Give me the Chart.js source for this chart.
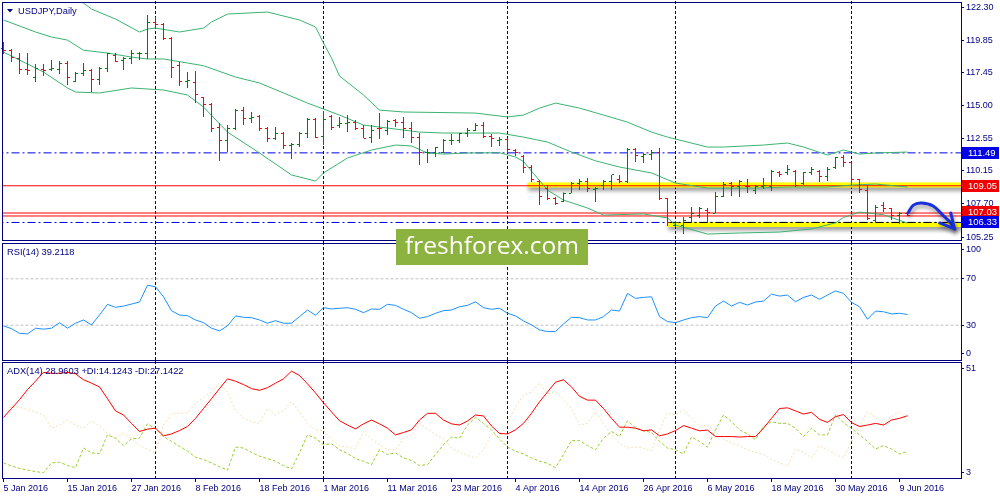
<!DOCTYPE html>
<html>
<head>
<meta charset="utf-8">
<title>USDJPY, Daily</title>
<script src="https://cdn.jsdelivr.net/npm/chart.js@4.4.1/dist/chart.umd.min.js"></script>
<style>
	html, body { margin: 0; padding: 0; background: #fff; }
	#wrap { position: relative; width: 1000px; height: 500px; overflow: hidden; background: #fff; }
	#wrap canvas { position: absolute; left: 0; top: 0; }
	#mark {
		position: absolute; left: 396px; top: 229px; width: 192px; height: 36px;
		background: #8cb23f; color: #fff; text-align: center;
		font: 24.5px 'Open Sans', sans-serif; line-height: 32px;
	}
</style>
</head>
<body>
<div id="wrap">
	<canvas id="mainChart" width="1000" height="500"></canvas>
	<canvas id="rsiChart" width="1000" height="500"></canvas>
	<canvas id="adxChart" width="1000" height="500"></canvas>
	<div id="mark">freshforex.com</div>
</div>
<script>
( function () {
	'use strict';

	// one bar per weekday, index 0 = 5 Jan 2016, last = 10 Jun 2016
	const opens = [
		119.20, 119.11, 118.52, 117.70, 117.11, 117.70, 117.70, 117.70, 118.15, 116.81,
		117.41, 117.63, 116.96, 117.78, 118.74, 118.37, 118.45, 118.82, 118.85, 121.19,
		121.04, 120.00, 117.93, 116.81, 116.74, 115.63, 115.11, 113.40, 112.37, 113.33,
		114.66, 114.07, 114.15, 113.33, 112.59, 112.89, 112.00, 112.14, 112.96, 114.00,
		112.74, 114.15, 113.55, 113.70, 113.77, 113.33, 112.66, 113.33, 113.18, 113.92,
		113.77, 113.33, 112.66, 111.48, 111.48, 111.52, 112.37, 112.37, 112.96, 113.18,
		113.55, 112.74, 112.37, 112.51, 111.70, 111.25, 110.37, 109.40, 108.88, 108.07,
		107.85, 108.51, 109.25, 109.33, 108.81, 109.10, 109.33, 109.48, 109.33, 111.77,
		111.25, 111.40, 111.48, 108.07, 106.14, 106.14, 106.73, 106.88, 107.25, 107.03,
		108.29, 109.25, 108.96, 109.03, 108.73, 108.96, 109.03, 110.07, 110.00, 110.14,
		109.25, 110.07, 110.14, 109.77, 110.37, 111.11, 110.74, 109.48, 108.73, 106.51,
		107.62, 107.33, 106.88, 106.96,
	];
	const highs = [
		119.71, 119.19, 118.89, 118.89, 118.07, 118.07, 118.37, 118.30, 118.30, 117.48,
		118.15, 117.70, 117.85, 118.89, 118.89, 118.59, 119.11, 118.96, 121.71, 121.56,
		121.11, 120.08, 118.22, 117.48, 117.56, 115.63, 115.18, 113.70, 113.55, 114.74,
		114.89, 114.52, 114.29, 113.40, 113.40, 113.03, 112.22, 113.03, 114.07, 114.07,
		114.59, 114.29, 114.15, 114.29, 113.92, 113.55, 113.55, 114.44, 113.92, 114.00,
		114.15, 113.77, 112.96, 111.77, 111.92, 112.51, 112.89, 112.96, 113.33, 113.70,
		113.77, 112.89, 112.66, 112.59, 111.77, 111.33, 110.59, 109.48, 109.10, 108.22,
		108.55, 109.33, 109.55, 109.62, 108.96, 109.48, 109.85, 109.85, 111.85, 111.85,
		111.48, 111.70, 111.85, 108.14, 106.44, 106.73, 107.47, 107.47, 107.40, 108.59,
		109.33, 109.33, 109.48, 109.55, 109.10, 109.62, 110.22, 110.14, 110.59, 110.22,
		110.07, 110.44, 110.22, 110.44, 111.18, 111.33, 110.81, 109.55, 109.10, 107.62,
		107.85, 107.40, 107.10, 107.03,
	];
	const lows = [
		118.82, 118.22, 117.33, 117.26, 116.74, 117.19, 117.56, 117.33, 116.52, 116.74,
		117.19, 116.00, 116.52, 117.48, 118.22, 117.63, 118.07, 118.37, 118.45, 120.74,
		119.85, 117.04, 116.44, 116.30, 115.18, 114.15, 113.03, 110.88, 111.55, 113.18,
		113.55, 113.70, 113.11, 112.29, 112.44, 111.77, 111.03, 111.92, 112.59, 112.59,
		112.07, 113.18, 113.33, 113.03, 113.18, 112.59, 112.22, 112.51, 112.81, 113.40,
		112.59, 112.22, 110.59, 110.74, 111.18, 111.48, 112.07, 112.22, 112.66, 113.11,
		112.59, 111.92, 112.00, 111.48, 111.25, 110.00, 109.33, 107.62, 107.99, 107.62,
		107.85, 108.51, 108.73, 108.59, 107.85, 108.73, 108.73, 109.25, 109.25, 110.81,
		110.74, 110.96, 107.99, 106.07, 105.99, 105.47, 106.36, 106.66, 106.36, 107.03,
		108.22, 108.29, 108.22, 108.51, 108.44, 108.81, 108.66, 109.70, 109.85, 108.96,
		109.10, 109.85, 109.33, 109.40, 110.29, 110.44, 109.10, 108.51, 106.51, 106.29,
		107.10, 106.51, 106.22, 106.81,
	];
	const closes = [
		119.10, 118.59, 117.70, 117.63, 117.78, 117.63, 117.72, 118.15, 117.04, 117.41,
		117.63, 116.96, 117.78, 118.82, 118.30, 118.52, 118.82, 118.85, 121.19, 121.04,
		120.00, 117.85, 116.81, 116.85, 115.78, 115.11, 113.33, 112.37, 113.33, 114.66,
		114.07, 114.10, 113.33, 112.59, 112.89, 112.00, 112.14, 112.96, 114.00, 112.66,
		114.00, 113.40, 113.70, 113.77, 113.33, 112.59, 113.18, 113.26, 113.85, 113.77,
		113.33, 112.66, 111.48, 111.52, 111.90, 112.44, 112.40, 112.96, 113.18, 113.55,
		112.74, 112.59, 112.51, 111.77, 111.48, 110.44, 109.55, 108.22, 108.14, 107.77,
		108.51, 109.25, 109.33, 108.88, 108.88, 109.33, 109.85, 109.33, 111.77, 111.33,
		111.40, 111.55, 108.07, 106.36, 106.36, 106.51, 107.03, 107.33, 107.10, 108.29,
		109.18, 108.96, 109.33, 108.96, 108.96, 109.10, 110.14, 109.85, 110.29, 109.10,
		110.07, 110.29, 109.77, 110.29, 111.11, 110.74, 109.55, 108.81, 106.66, 107.47,
		107.40, 106.88, 107.03, 106.88,
	];

	// Bollinger bands, read as [bar, price]
	const bbUpper = [
		[0, 124.6], [5, 123.6], [10, 122.6], [11, 122.15], [14, 121.41], [17, 120.45], [18, 120.67],
		[19, 120.74], [22, 120.45], [25, 120.74], [26, 121.19], [28, 121.78], [33, 121.93], [37, 121.34],
		[39, 120.82], [40, 119.63], [41, 118.52], [42, 117.19], [45, 115.78], [47, 114.66], [50, 114.52],
		[59, 114.44], [63, 114.15], [65, 114.29], [67, 114.81], [69, 115.18], [72, 114.81], [75, 114.29],
		[78, 113.77], [81, 113.03], [83, 112.66], [88, 111.92], [90, 111.92], [95, 112.07], [98, 112.22],
		[100, 111.92], [103, 111.33], [105, 111.70], [107, 111.40], [109, 111.48], [113, 111.55],
	];
	const bbMiddle = [
		[0, 121.34], [4, 120.45], [6, 120.08], [8, 119.85], [10, 119.1], [13, 118.89], [16, 118.59],
		[18, 118.45], [20, 118.45], [23, 118.15], [25, 117.95], [29, 117.11], [32, 116.67], [35, 115.93],
		[38, 115.18], [40, 114.74], [42, 114.29], [45, 113.55], [48, 113.33], [52, 113.03], [55, 112.96],
		[62, 112.96], [65, 112.66], [68, 112.29], [71, 111.55], [74, 110.90], [77, 110.44], [81, 110.00],
		[84, 109.25], [88, 108.88], [94, 108.88], [98, 108.96], [103, 108.96], [106, 109.10], [109, 109.18],
		[113, 108.96],
	];
	const bbLower = [
		[0, 118.96], [2, 118.37], [5, 117.48], [8, 116.30], [9, 116.00], [12, 115.93], [16, 116.30],
		[20, 116.15], [23, 115.78], [25, 114.89], [28, 113.03], [32, 111.48], [36, 109.85], [39, 109.40],
		[40, 110.00], [43, 111.11], [46, 111.70], [49, 112.07], [51, 112.00], [53, 111.48], [55, 111.40],
		[58, 111.48], [62, 111.50], [64, 111.18], [65, 110.85], [68, 108.73], [70, 107.99], [73, 107.40],
		[75, 106.88], [80, 106.96], [83, 106.66], [84, 106.14], [88, 105.47], [92, 105.55], [97, 105.62],
		[101, 105.85], [104, 106.30], [105, 106.70], [107, 107.10], [110, 106.90], [113, 106.28],
	];

	const rsi = [
		29.4, 27.0, 23.0, 22.5, 27.4, 26.6, 27.4, 32.2, 27.4, 31.7,
		34.5, 30.2, 38.8, 48.0, 45.4, 46.5, 48.2, 50.0, 64.5, 63.1,
		54.5, 42.5, 38.8, 38.2, 34.5, 32.2, 27.4, 25.1, 29.4, 38.0,
		36.8, 36.5, 34.5, 31.7, 33.9, 31.7, 31.7, 37.4, 43.1, 38.6,
		45.1, 44.0, 44.6, 45.1, 43.7, 40.8, 44.0, 43.7, 48.0, 47.1,
		43.7, 40.8, 36.0, 37.4, 40.3, 42.5, 43.1, 45.9, 47.1, 50.2,
		45.1, 43.7, 44.6, 40.3, 38.0, 33.7, 30.2, 26.0, 24.5, 24.5,
		31.1, 36.8, 36.5, 34.5, 34.5, 37.4, 43.1, 42.2, 57.4, 53.1,
		54.0, 54.5, 37.4, 33.1, 32.2, 34.5, 36.5, 37.4, 36.5, 46.5,
		50.8, 46.5, 49.7, 47.4, 50.0, 50.8, 56.8, 55.1, 56.0, 50.2,
		54.0, 56.0, 52.3, 56.0, 59.6, 57.4, 49.7, 45.9, 35.1, 42.2,
		41.6, 39.7, 40.3, 39.2,
	];
	const adx = [
		28.3, 32.0, 35.7, 39.9, 43.4, 47.1, 46.7, 46.7, 47.1, 46.5,
		44.0, 42.6, 41.0, 36.1, 31.0, 29.3, 25.8, 22.4, 23.4, 23.8,
		20.6, 21.4, 22.8, 24.5, 27.9, 32.0, 36.1, 40.3, 44.4, 43.4,
		42.0, 40.3, 39.6, 40.7, 42.6, 44.4, 47.6, 45.8, 42.3, 38.5,
		34.4, 30.6, 26.9, 25.1, 23.5, 25.6, 27.2, 25.6, 23.8, 21.0,
		22.0, 23.1, 27.2, 30.0, 30.0, 27.2, 25.6, 25.1, 26.8, 29.3,
		28.9, 24.7, 21.6, 21.4, 23.1, 25.8, 30.0, 34.8, 38.9, 43.0,
		44.0, 41.0, 37.1, 35.5, 35.5, 32.0, 27.9, 24.2, 24.2, 23.8,
		22.7, 23.1, 20.6, 21.4, 22.8, 24.9, 23.8, 22.7, 23.0, 20.3,
		20.3, 20.3, 20.1, 20.3, 20.3, 23.8, 27.9, 32.0, 32.3, 31.0,
		29.7, 30.4, 27.5, 26.2, 28.6, 29.5, 26.1, 24.5, 25.1, 25.8,
		25.1, 27.2, 27.9, 29.0,
	];
	const plusDi = [
		9.3, 8.0, 7.0, 6.3, 5.7, 5.2, 9.3, 9.6, 8.2, 7.3,
		15.5, 13.5, 13.2, 21.0, 19.6, 16.5, 19.4, 19.6, 25.6, 23.4,
		20.3, 18.3, 16.2, 14.2, 11.7, 10.7, 9.3, 7.7, 6.3, 15.9,
		15.5, 13.7, 12.1, 11.1, 10.0, 8.2, 6.8, 13.5, 21.0, 19.6,
		16.9, 17.3, 14.8, 13.2, 11.1, 10.0, 8.6, 14.8, 12.8, 13.5,
		11.4, 10.3, 8.2, 8.6, 12.8, 16.9, 20.1, 19.6, 25.1, 28.3,
		25.8, 23.1, 19.3, 15.9, 14.2, 13.0, 11.4, 10.0, 9.1, 7.3,
		12.8, 18.6, 18.6, 16.5, 14.8, 19.6, 22.4, 20.3, 26.9, 24.0,
		22.7, 22.0, 18.3, 15.5, 14.8, 13.0, 20.1, 18.3, 15.9, 23.1,
		29.3, 26.5, 23.1, 21.4, 19.0, 24.5, 26.5, 25.8, 25.8, 23.8,
		20.3, 23.8, 21.0, 21.0, 29.3, 26.1, 23.8, 21.0, 18.3, 15.1,
		16.5, 15.1, 13.0, 14.1,
	];
	const minusDi = [
		27.9, 33.0, 32.5, 31.6, 30.6, 29.3, 23.8, 25.1, 27.2, 25.1,
		23.8, 26.8, 24.7, 21.7, 19.6, 21.7, 19.6, 16.5, 15.1, 13.5,
		25.1, 29.9, 29.9, 30.2, 34.1, 36.6, 38.9, 42.6, 38.9, 31.3,
		27.9, 26.5, 25.8, 32.0, 29.3, 31.3, 34.8, 30.6, 25.8, 23.1,
		22.8, 19.2, 16.5, 15.9, 15.1, 22.4, 19.2, 16.9, 14.8, 14.8,
		19.6, 20.6, 25.8, 23.4, 21.0, 19.6, 15.5, 13.7, 12.4, 11.4,
		14.8, 21.4, 20.0, 25.8, 32.7, 37.5, 38.9, 42.6, 38.2, 38.9,
		35.7, 32.0, 25.1, 25.8, 30.6, 25.8, 21.0, 17.6, 15.5, 15.9,
		15.5, 14.2, 23.1, 30.2, 29.3, 31.6, 27.9, 24.5, 25.1, 22.4,
		19.2, 17.6, 16.5, 14.8, 13.7, 12.8, 10.7, 9.3, 8.0, 15.1,
		13.7, 11.4, 16.5, 14.8, 12.8, 11.4, 18.3, 25.1, 30.6, 28.3,
		25.8, 28.6, 30.6, 27.1,
	];

	// axis labels, one date every 8 bars
	const dateTicks = [
		'5 Jan 2016', '15 Jan 2016', '27 Jan 2016', '8 Feb 2016', '18 Feb 2016',
		'1 Mar 2016', '11 Mar 2016', '23 Mar 2016', '4 Apr 2016', '14 Apr 2016',
		'26 Apr 2016', '6 May 2016', '18 May 2016', '30 May 2016', '9 Jun 2016',
	];
	const priceTicks = [ 122.30, 119.85, 117.45, 115.00, 112.55, 110.15, 107.70, 105.25 ];
	const monthStarts = [ 19, 40, 63, 84, 106 ];

	// drawn levels and marks
	const levelPrices = [ 111.49, 109.05, 107.03, 106.81, 106.33 ];
	const zoneStarts  = [ 65.5, 83 ];
	const zonePrices  = [ 109.10, 106.17 ];
	const arrowPath   = [ [113.06, 107.03], [113.7, 107.6], [114.7, 107.77], [116.2, 107.55], [117.4, 106.88], [118.3, 106.36], [118.9, 105.85] ];
	const rsiLevels   = [ 30, 70 ];

	const FONT  = "'Liberation Sans', Arial, sans-serif";
	const NAVY  = '#000080';
	const UP    = '#008000';
	const DOWN  = '#ff0000';
	const BAND  = '#3cb371';
	const BLUE  = '#0000e6';
	const DASHDOT = [ 8, 3, 2, 3 ];

	const levelStyle = [
		{ color: BLUE,      dash: DASHDOT, tag: BLUE,      shift: 0 },
		{ color: '#ff0000', dash: [],      tag: '#f00000', shift: 0 },
		{ color: '#ff0000', dash: [],      tag: '#f00000', shift: -1.5 },
		{ color: '#ff0000', dash: [],      tag: null,      shift: 0 },
		{ color: BLUE,      dash: DASHDOT, tag: BLUE,      shift: 0 },
	];

	Chart.defaults.font.family = FONT;
	Chart.defaults.font.size   = 9;
	Chart.defaults.color       = NAVY;
	Chart.defaults.elements.point.radius = 0;
	Chart.defaults.elements.line.borderWidth = 1;

	const X_MIN = -0.0625;
	const X_MAX = 119.6875;

	function xAxis( show ) {
		return {
			type: 'linear', min: X_MIN, max: X_MAX, display: show, offset: false,
			afterBuildTicks: function ( s ) {
				s.ticks = dateTicks.map( function ( t, k ) { return { value: k * 8 }; } );
			},
			afterFit: function ( s ) {
				if ( show ) s.height = 22;
				s.paddingLeft = 0;
				s.paddingRight = 0;
			},
			grid:   { drawOnChartArea: false, offset: false, tickLength: 4, color: NAVY },
			border: { display: false },
			ticks: {
				autoSkip: false, maxRotation: 0, align: 'start', padding: 1,
				callback: function ( v ) { return dateTicks[ Math.round( v / 8 ) ]; },
			},
		};
	}

	function yAxis( min, max, tickValues, tickLabels ) {
		return {
			position: 'right', min: min, max: max,
			afterBuildTicks: function ( s ) {
				s.ticks = tickValues.map( function ( v ) { return { value: v }; } );
			},
			afterFit: function ( s ) {
				s.width = 39;
				s.paddingTop = 0;
				s.paddingBottom = 0;
			},
			grid:   { drawOnChartArea: false, tickLength: 3, color: NAVY },
			border: { display: false },
			ticks:  { padding: 2, autoSkip: false, callback: function ( v, i ) { return tickLabels[ i ]; } },
		};
	}

	function options( pad, x, y, panel ) {
		return {
			responsive: false,
			animation:  false,
			events:     [],
			layout:     { padding: pad, autoPadding: false },
			scales:     { x: x, y: y },
			plugins: {
				legend:  { display: false },
				tooltip: { enabled: false },
				panel:   panel,
			},
		};
	}

	function hLine( price, from, to, color, width, dash, order ) {
		return {
			type: 'line',
			data: [ { x: from, y: price }, { x: to, y: price } ],
			borderColor: color, borderWidth: width, borderDash: dash,
			borderCapStyle: 'butt', order: order,
		};
	}

	function pairs( list ) {
		return list.map( function ( p ) { return { x: p[0], y: p[1] }; } );
	}

	function series( list ) {
		return list.map( function ( v, i ) { return { x: i, y: v }; } );
	}

	// frame, month separators and the panel caption
	const panelPlugin = {
		id: 'panel',
		defaults: { title: '', marker: false },
		beforeDatasetsDraw( chart ) {
			const ctx = chart.ctx, a = chart.chartArea, x = chart.scales.x;
			ctx.save();
			ctx.strokeStyle = NAVY;
			ctx.lineWidth = 1;
			ctx.setLineDash( [ 3, 2 ] );
			monthStarts.forEach( function ( i ) {
				const px = Math.floor( x.getPixelForValue( i ) ) + 0.5;
				ctx.beginPath();
				ctx.moveTo( px, a.top - 2 );
				ctx.lineTo( px, a.bottom + 2 );
				ctx.stroke();
			} );
			ctx.restore();
		},
		afterDraw( chart, args, opts ) {
			const ctx = chart.ctx, a = chart.chartArea;
			ctx.save();
			ctx.strokeStyle = NAVY;
			ctx.lineWidth = 1;
			ctx.strokeRect( a.left - 0.5, a.top - 0.5, a.right - a.left + 1, a.bottom - a.top + 1 );
			ctx.fillStyle = NAVY;
			ctx.font = '9.3px ' + FONT;
			ctx.textBaseline = 'middle';
			let tx = a.left + 4;
			if ( opts.marker ) {
				ctx.beginPath();
				ctx.moveTo( a.left + 4, a.top + 6 );
				ctx.lineTo( a.left + 10, a.top + 6 );
				ctx.lineTo( a.left + 7, a.top + 9.5 );
				ctx.closePath();
				ctx.fill();
				tx = a.left + 15;
			}
			ctx.fillText( opts.title, tx, a.top + 8 );
			ctx.restore();
		},
	};
	Chart.register( panelPlugin );

	// open / close ticks of the bars
	const tickPlugin = {
		id: 'ohlcTicks',
		afterDatasetDraw( chart, args ) {
			if ( args.meta.type !== 'bar' ) return;
			const ctx = chart.ctx, x = chart.scales.x, y = chart.scales.y;
			ctx.save();
			opens.forEach( function ( o, i ) {
				const cx = Math.floor( x.getPixelForValue( i ) );
				ctx.fillStyle = closes[i] > o ? UP : DOWN;
				ctx.fillRect( cx - 2, Math.round( y.getPixelForValue( o ) - 0.5 ), 2, 1 );
				ctx.fillRect( cx + 1, Math.round( y.getPixelForValue( closes[i] ) - 0.5 ), 2, 1 );
			} );
			ctx.restore();
		},
	};

	// drop shadow for the highlighter strokes and the arrow head
	const shadowPlugin = {
		id: 'shadow',
		beforeDatasetDraw( chart, args ) {
			const ds = chart.data.datasets[ args.index ];
			if ( ! ds.shadow ) return;
			const ctx = chart.ctx;
			ctx.save();
			ctx.shadowColor   = 'rgba(0,0,0,0.45)';
			ctx.shadowBlur    = 4;
			ctx.shadowOffsetX = 1;
			ctx.shadowOffsetY = 3;
		},
		afterDatasetDraw( chart, args ) {
			const ds = chart.data.datasets[ args.index ];
			if ( ! ds.shadow ) return;
			const ctx = chart.ctx;
			if ( ds.arrowHead ) {
				const pts = args.meta.data;
				const tip = pts[ pts.length - 1 ];
				ctx.strokeStyle = ds.borderColor;
				ctx.lineWidth = 3;
				ctx.lineCap = 'round';
				ctx.lineJoin = 'round';
				ctx.beginPath();
				ctx.moveTo( tip.x - 15, tip.y - 6 );
				ctx.lineTo( tip.x, tip.y );
				ctx.lineTo( tip.x - 4, tip.y - 16 );
				ctx.stroke();
			}
			ctx.restore();
		},
	};

	// coloured price tags on the right scale
	const tagPlugin = {
		id: 'tags',
		afterDraw( chart ) {
			const ctx = chart.ctx, a = chart.chartArea, y = chart.scales.y;
			ctx.save();
			ctx.font = '9.5px ' + FONT;
			ctx.textBaseline = 'middle';
			levelPrices.forEach( function ( p, i ) {
				const st = levelStyle[i];
				if ( ! st.tag ) return;
				const py = y.getPixelForValue( p ) + st.shift;
				ctx.fillStyle = st.tag;
				ctx.fillRect( a.right + 1, Math.round( py - 6 ), 37, 12 );
				ctx.fillStyle = '#fff';
				ctx.fillText( p.toFixed( 2 ), a.right + 7, Math.round( py ) + 0.5 );
			} );
			ctx.restore();
		},
	};

	const mainSets = [
		{
			type: 'line', data: pairs( arrowPath ), borderColor: '#1a30dc', borderWidth: 3,
			tension: 0.35, borderCapStyle: 'round', order: 1, shadow: true, arrowHead: true,
		},
		{
			type: 'bar',
			data: highs.map( function ( h, i ) { return { x: i, y: [ lows[i], h ] }; } ),
			backgroundColor: closes.map( function ( c, i ) { return c > opens[i] ? UP : DOWN; } ),
			barThickness: 1, inflateAmount: 0, borderWidth: 0, order: 2,
		},
		{ type: 'line', data: pairs( bbUpper ),  borderColor: BAND, order: 3 },
		{ type: 'line', data: pairs( bbMiddle ), borderColor: BAND, order: 3 },
		{ type: 'line', data: pairs( bbLower ),  borderColor: BAND, order: 3 },
		hLine( levelPrices[4], zoneStarts[1], 119.4, '#000000', 1, DASHDOT, 4 ),
	];
	levelPrices.forEach( function ( p, i ) {
		mainSets.push( hLine( p, -1, 121, levelStyle[i].color, 1, levelStyle[i].dash, 5 ) );
	} );
	zonePrices.forEach( function ( p, i ) {
		const zone = hLine( p, zoneStarts[i], 121, '#ffff00', 5, [], 6 );
		zone.shadow = true;
		mainSets.push( zone );
	} );

	new Chart( document.getElementById( 'mainChart' ), {
		type: 'line',
		data: { datasets: mainSets },
		options: options(
			{ left: 3, top: 3, right: 0, bottom: 260 },
			xAxis( false ),
			yAxis( 105.03, 122.60, priceTicks, priceTicks.map( function ( p ) { return p.toFixed( 2 ); } ) ),
			{ title: 'USDJPY,Daily', marker: true }
		),
		plugins: [ tickPlugin, shadowPlugin, tagPlugin ],
	} );

	const rsiSets = [
		{ type: 'line', data: series( rsi ), borderColor: '#1e90ff', order: 1 },
	];
	rsiLevels.forEach( function ( v ) {
		rsiSets.push( hLine( v, -1, 121, '#c0c0c0', 1, [ 3, 2 ], 2 ) );
	} );

	new Chart( document.getElementById( 'rsiChart' ), {
		type: 'line',
		data: { datasets: rsiSets },
		options: options(
			{ left: 3, top: 244, right: 0, bottom: 140 },
			xAxis( false ),
			yAxis( 0, 100, [ 95.4, 70, 30, 5.8 ], [ '100', '70', '30', '0' ] ),
			{ title: 'RSI(14) 39.2118' }
		),
	} );

	new Chart( document.getElementById( 'adxChart' ), {
		type: 'line',
		data: {
			datasets: [
				{ data: series( adx ),     borderColor: '#ff0000', order: 1 },
				{ data: series( plusDi ),  borderColor: '#9acd32', borderDash: [ 3, 2 ], order: 2 },
				{ data: series( minusDi ), borderColor: '#f5deb3', borderDash: [ 2, 2 ], order: 3 },
			],
		},
		options: options(
			{ left: 3, top: 363, right: 0, bottom: 0 },
			xAxis( true ),
			yAxis( 3, 51, [ 48.5, 5.2 ], [ '51', '3' ] ),
			{ title: 'ADX(14) 28.9603 +DI:14.1243 -DI:27.1422' }
		),
	} );
} )();
</script>
</body>
</html>
